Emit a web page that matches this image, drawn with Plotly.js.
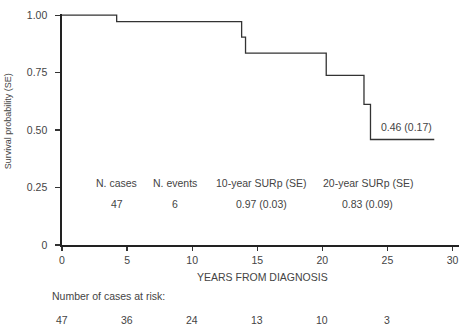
<!DOCTYPE html>
<html><head><meta charset="utf-8">
<script src="https://cdn.plot.ly/plotly-3.0.1.min.js"></script>
<style>html,body{margin:0;padding:0;background:#fff}#c{width:459px;height:327px}</style>
</head><body><div id="c"></div>
<script>
// Kaplan-Meier step curve (years, survival)
const years    = [0, 4.2, 13.8, 14.1, 20.3, 23.2, 23.7, 28.6];
const survival = [1.00, 0.972, 0.904, 0.835, 0.738, 0.612, 0.459, 0.459];
const xTicks = [0, 5, 10, 15, 20, 25, 30];
const yTicks = [0, 0.25, 0.5, 0.75, 1];
const yTickText = ['0', '0.25', '0.50', '0.75', '1.00'];
const riskTimes = [0, 5, 10, 15, 20, 25];
const atRisk = [47, 36, 24, 13, 10, 3];
const tableHeaders = ['N. cases', 'N. events', '10-year SURp (SE)', '20-year SURp (SE)'];
const tableValues  = ['47', '6', '0.97 (0.03)', '0.83 (0.09)'];
const tableX = [4.2, 8.7, 15.3, 23.5];
const endLabel = '0.46 (0.17)';

const F = 'Liberation Sans, Arial, sans-serif';
const txt = '#444';
const fs = 10.5;

const W = 459, H = 327, L = 62, R = 0, T = 13.5, B = 82;
const pw = W - L - R, ph = H - T - B;
const px = v => (v - L) / pw;
const py = v => 1 - (v - T) / ph;

const base = {showarrow: false, xanchor: 'center', yanchor: 'middle'};
const ann = [];
tableHeaders.forEach((h, i) => ann.push({...base, x: tableX[i], y: 0.27, xref: 'x', yref: 'y', text: h, font: {family: F, size: fs, color: txt}}));
tableValues.forEach((v, i) => ann.push({...base, x: tableX[i], y: 0.18, xref: 'x', yref: 'y', text: v, font: {family: F, size: fs, color: txt}}));
ann.push({...base, x: 26.5, y: 0.515, xref: 'x', yref: 'y', text: endLabel, font: {family: F, size: fs, color: txt}});
ann.push({...base, x: px(262), y: py(277), xref: 'paper', yref: 'paper', text: 'YEARS FROM DIAGNOSIS', font: {family: F, size: fs, color: txt}});
ann.push({...base, xanchor: 'left', x: px(50), y: py(296), xref: 'paper', yref: 'paper', text: 'Number of cases at risk:', font: {family: F, size: fs, color: txt}});
ann.push({...base, x: px(8), y: py(121), xref: 'paper', yref: 'paper', text: 'Survival probability (SE)', textangle: -90, font: {family: F, size: 9, color: txt}});
riskTimes.forEach((t, i) => ann.push({...base, x: t, y: py(320), xref: 'x', yref: 'paper', text: String(atRisk[i]), font: {family: F, size: fs, color: txt}}));

Plotly.newPlot('c', [{
  x: years, y: survival, type: 'scatter', mode: 'lines',
  line: {shape: 'hv', color: '#333', width: 1.3}, hoverinfo: 'skip'
}], {
  width: W, height: H,
  margin: {l: L, r: R, t: T, b: B},
  paper_bgcolor: '#fff', plot_bgcolor: '#fff',
  showlegend: false,
  xaxis: {range: [0, 30.5], tickvals: xTicks, ticks: 'outside', ticklen: 4, tickcolor: '#333', tickwidth: 1.2,
    showline: true, linecolor: '#222', linewidth: 1.6, showgrid: false, zeroline: false,
    tickfont: {family: F, size: fs, color: txt}, ticklabelstandoff: 1},
  yaxis: {range: [0, 1.005], tickvals: yTicks, ticktext: yTickText, ticks: 'outside', ticklen: 5, tickcolor: '#333', tickwidth: 1.2,
    showline: true, linecolor: '#222', linewidth: 1.6, showgrid: false, zeroline: false,
    tickfont: {family: F, size: fs, color: txt}, ticklabelstandoff: 6},
  annotations: ann
}, {displayModeBar: false, staticPlot: true});
</script></body></html>
